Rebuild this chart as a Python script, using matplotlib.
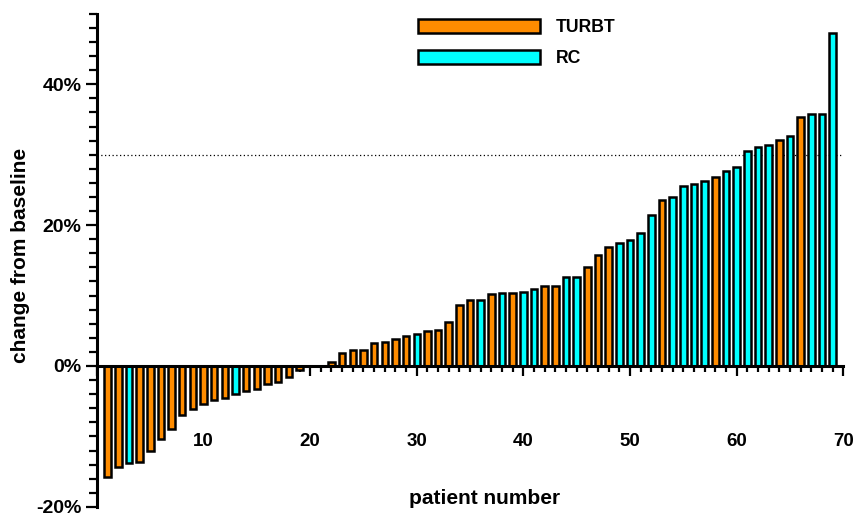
import numpy as np
import matplotlib.pyplot as plt
from matplotlib.patches import Patch
from matplotlib.ticker import MultipleLocator, FuncFormatter

plt.rcParams['font.family'] = ['Liberation Sans', 'DejaVu Sans']
plt.rcParams['font.weight'] = 'bold'

# change from baseline (%) per patient, sorted
change = [-15.7, -14.3, -13.8, -13.7, -12.1, -10.4, -8.9, -6.9, -6.1, -5.4,
          -4.8, -4.5, -4.0, -3.5, -3.2, -2.5, -2.3, -1.5, -0.5, 0.0,
          0.0, 0.6, 1.9, 2.2, 2.3, 3.3, 3.4, 3.8, 4.2, 4.6,
          4.9, 5.1, 6.3, 8.7, 9.3, 9.4, 10.2, 10.3, 10.4, 10.5,
          10.9, 11.3, 11.3, 12.7, 12.7, 14.1, 15.7, 16.9, 17.4, 17.9,
          18.9, 21.4, 23.5, 24.0, 25.5, 25.9, 26.3, 26.9, 27.7, 28.3,
          30.5, 31.1, 31.4, 32.1, 32.6, 35.4, 35.8, 35.8, 47.3]
# T = TURBT, R = RC
group = list("TTRTTTTTTTTTRTTTTTTT"
             "TTTTTTTTTR"
             "TTTTTRTRTR"
             "RTTRRTTTRR"
             "RRTRRRRTRR"
             "RRRTRTRRR")
threshold = 30
colors = {'T': '#FF8C00', 'R': '#00FFFF'}
labels = {'T': 'TURBT', 'R': 'RC'}

patients = np.arange(1, len(change) + 1)

fig = plt.figure(figsize=(8.65, 5.13), dpi=100)
ax = fig.add_axes([0.112, 0.012, 0.863, 0.961])

ax.bar(patients, change, width=0.62, color=[colors[g] for g in group],
       edgecolor='black', linewidth=1.8, zorder=3)
ax.axhline(threshold, color='black', linestyle=(0, (1, 2)), linewidth=0.9, zorder=2)

ax.set_xlim(0, 70)
ax.set_ylim(-20, 50)

# axis styling
ax.spines['top'].set_visible(False)
ax.spines['right'].set_visible(False)
ax.spines['bottom'].set_position(('data', 0))
ax.spines['bottom'].set_zorder(4)
ax.spines['left'].set_linewidth(2.2)
ax.spines['bottom'].set_linewidth(2.2)

ax.xaxis.set_major_locator(MultipleLocator(10))
ax.xaxis.set_minor_locator(MultipleLocator(1))
ax.yaxis.set_major_locator(MultipleLocator(20))
ax.yaxis.set_minor_locator(MultipleLocator(2))
ax.xaxis.set_major_formatter(FuncFormatter(lambda v, p: '' if v == 0 else f'{v:.0f}'))
ax.yaxis.set_major_formatter(FuncFormatter(lambda v, p: f'{v:.0f}%'))

ax.tick_params(axis='x', which='major', direction='out', length=7, width=1.6,
               pad=41, labelsize=13.5)
ax.tick_params(axis='x', which='minor', direction='out', length=4.5, width=1.6)
ax.tick_params(axis='y', which='major', direction='out', length=8, width=1.6,
               pad=3, labelsize=14)
ax.tick_params(axis='y', which='minor', direction='out', length=5.5, width=1.6)

ax.set_xlabel('patient number', fontsize=15, fontweight='bold')
ax.xaxis.set_label_coords(0.52, 0.037)
ax.set_ylabel('change from baseline', fontsize=15, fontweight='bold')
ax.yaxis.set_label_coords(-0.09, 0.51)

handles = [Patch(facecolor=colors[k], edgecolor='black', linewidth=1.8, label=labels[k])
           for k in ['T', 'R']]
ax.legend(handles=handles, loc='upper left', bbox_to_anchor=(0.43, 0.99),
          frameon=False, handlelength=6.9, handleheight=0.85,
          handletextpad=0.9, labelspacing=0.8, borderpad=0, borderaxespad=0,
          prop={'weight': 'bold', 'size': 12.7})

fig.savefig('out.png', dpi=100)
